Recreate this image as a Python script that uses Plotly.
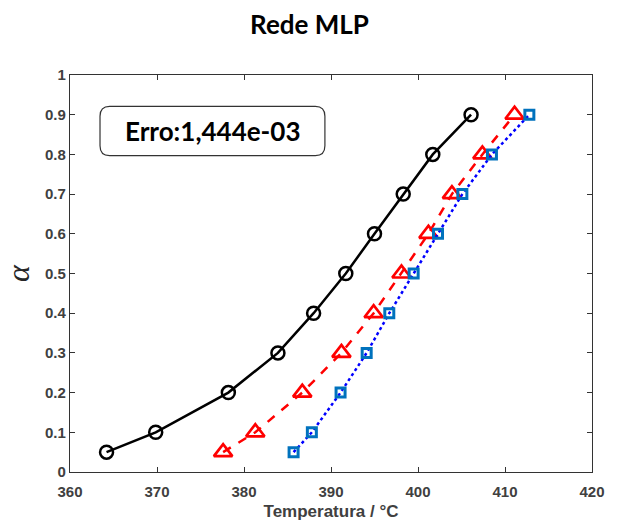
import plotly.graph_objects as go

alpha = [0.05, 0.1, 0.2, 0.3, 0.4, 0.5, 0.6, 0.7, 0.8, 0.9]
temp_exp = [364.2, 369.85, 378.2, 383.9, 388.0, 391.7, 395.0, 398.3, 401.7, 406.1]
temp_red = [377.6, 381.3, 386.7, 391.2, 394.9, 398.1, 401.2, 403.9, 407.4, 411.1]
temp_blue = [385.7, 387.8, 391.1, 394.1, 396.7, 399.5, 402.3, 405.1, 408.5, 412.8]

x_ticks = [360, 370, 380, 390, 400, 410, 420]
y_ticks = [0, 0.1, 0.2, 0.3, 0.4, 0.5, 0.6, 0.7, 0.8, 0.9, 1]
y_labels = ["0", "0.1", "0.2", "0.3", "0.4", "0.5", "0.6", "0.7", "0.8", "0.9", "1"]

title_text = "Rede MLP"
erro_text = "Erro:1,444e-03"

fig = go.Figure()
fig.add_trace(go.Scatter(
    x=temp_exp, y=alpha, mode="lines+markers",
    line=dict(color="black", width=2.5),
    marker=dict(symbol="circle-open", size=13, color="black", line=dict(width=2.5)),
    showlegend=False))
fig.add_trace(go.Scatter(
    x=temp_red, y=alpha, mode="lines+markers",
    line=dict(color="#ff0000", width=2.5, dash="dash"),
    marker=dict(symbol="triangle-up-open", size=16, color="#ff0000", line=dict(width=2.7)),
    showlegend=False))
fig.add_trace(go.Scatter(
    x=temp_blue, y=alpha, mode="lines+markers",
    line=dict(color="#0000ff", width=2.5, dash="dot"),
    marker=dict(symbol="square-open", size=9, color="#0072BD", line=dict(width=3)),
    showlegend=False))

# rounded box for error text
x0, x1 = 363.45, 389.3
y0, y1 = 0.797, 0.921
rx, ry = 1.1, 0.025
path = (f"M {x0+rx},{y0} L {x1-rx},{y0} Q {x1},{y0} {x1},{y0+ry} "
        f"L {x1},{y1-ry} Q {x1},{y1} {x1-rx},{y1} L {x0+rx},{y1} "
        f"Q {x0},{y1} {x0},{y1-ry} L {x0},{y0+ry} Q {x0},{y0} {x0+rx},{y0} Z")
fig.add_shape(type="path", path=path, xref="x", yref="y",
              line=dict(color="#333333", width=1.2), fillcolor="white", layer="above")
fig.add_annotation(x=(x0 + x1) / 2, y=(y0 + y1) / 2, xref="x", yref="y",
                   text=f"<b>{erro_text}</b>", showarrow=False,
                   font=dict(family="Lato", size=26, color="black"))

axis_common = dict(showline=True, linecolor="#333333", linewidth=1.3, mirror="ticks",
                   ticks="inside", ticklen=5, tickcolor="#333333", showgrid=False,
                   zeroline=False, automargin=False,
                   tickfont=dict(family="Liberation Sans", size=15, color="#404040", weight="bold"))

fig.update_layout(
    width=619, height=523,
    margin=dict(l=70, r=27, t=75, b=51),
    plot_bgcolor="white", paper_bgcolor="white",
    title=dict(text=f"<b>{title_text}</b>", x=0.5, xanchor="center", y=0.953, yanchor="middle",
               font=dict(family="Lato", size=26, color="black")),
    xaxis=dict(range=[360, 420], tickvals=x_ticks, ticktext=[str(v) for v in x_ticks],
               ticklabelstandoff=6,
               title=dict(text="<b>Temperatura / °C</b>", standoff=5,
                          font=dict(family="Liberation Sans", size=17, color="#404040")),
               **axis_common),
    yaxis=dict(range=[0, 1], tickvals=y_ticks, ticktext=y_labels,
               title=dict(text="<i>α</i>", standoff=10,
                          font=dict(family="Liberation Serif", size=32, color="#262626")),
               **axis_common),
)

fig.write_html("out.html")
